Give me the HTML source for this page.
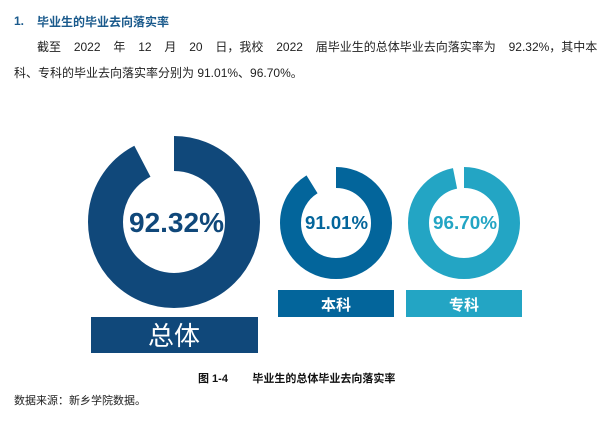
<!DOCTYPE html>
<html><head><meta charset="utf-8"><style>
body{margin:0;width:611px;height:421px;background:#fff;position:relative;font-family:"Liberation Sans","Noto Sans CJK SC",sans-serif;overflow:hidden}
.t{position:absolute;white-space:nowrap}
</style></head><body>
<div class="t" style="left:14px;top:14px;font-size:12px;font-weight:bold;color:#1a5a8c">1.</div>
<div class="t" style="left:37px;top:13px;font-size:12px;font-weight:bold;color:#1a5a8c">毕业生的毕业去向落实率</div>
<div class="t" style="left:37px;top:38px;font-size:12px;color:#222;word-spacing:9.5px">截至 2022 年 12 月 20 日，我校 2022 届毕业生的总体毕业去向落实率为 92.32%，其中本</div>
<div class="t" style="left:14px;top:64px;font-size:12px;color:#222">科、专科的毕业去向落实率分别为 91.01%、96.70%。</div>
<svg style="position:absolute;left:0;top:0" width="611" height="421">
<g transform="rotate(-90 174 222)"><circle cx="174" cy="222" r="68.5" fill="none" stroke="#10487a" stroke-width="35" stroke-dasharray="397.4 33" /></g>
<g transform="rotate(-90 336 223)"><circle cx="336" cy="223" r="45.5" fill="none" stroke="#03659b" stroke-width="21" stroke-dasharray="260.2 25.7" /></g>
<g transform="rotate(-90 464 223)"><circle cx="464" cy="223" r="45.5" fill="none" stroke="#23a5c4" stroke-width="21" stroke-dasharray="276.4 9.5" /></g>
<text x="129" y="232" textLength="95" lengthAdjust="spacingAndGlyphs" font-size="28" font-weight="bold" fill="#10487a" font-family="Liberation Sans">92.32%</text>
<text x="305" y="229" textLength="63" lengthAdjust="spacingAndGlyphs" font-size="18" font-weight="bold" fill="#03659b" font-family="Liberation Sans">91.01%</text>
<text x="433" y="229" textLength="64" lengthAdjust="spacingAndGlyphs" font-size="18" font-weight="bold" fill="#23a5c4" font-family="Liberation Sans">96.70%</text>
<rect x="91" y="317" width="167" height="36" fill="#10487a"/>
<rect x="278" y="290" width="116" height="27" fill="#03659b"/>
<rect x="406" y="290" width="116" height="27" fill="#23a5c4"/>
<text x="174" y="345" text-anchor="middle" font-size="26" fill="#fff" font-family="Noto Sans CJK SC">总体</text>
<text x="336" y="310" text-anchor="middle" font-size="15" font-weight="bold" fill="#fff" font-family="Noto Sans CJK SC">本科</text>
<text x="464" y="310" text-anchor="middle" font-size="15" font-weight="bold" fill="#fff" font-family="Noto Sans CJK SC">专科</text>
</svg>
<div class="t" style="left:198px;top:370px;font-size:11px;font-weight:bold;color:#111">图 1-4&nbsp;&nbsp;&nbsp;&nbsp;&nbsp;&nbsp;&nbsp;&nbsp;毕业生的总体毕业去向落实率</div>
<div class="t" style="left:14px;top:392px;font-size:11px;color:#222">数据来源：新乡学院数据。</div>
</body></html>
